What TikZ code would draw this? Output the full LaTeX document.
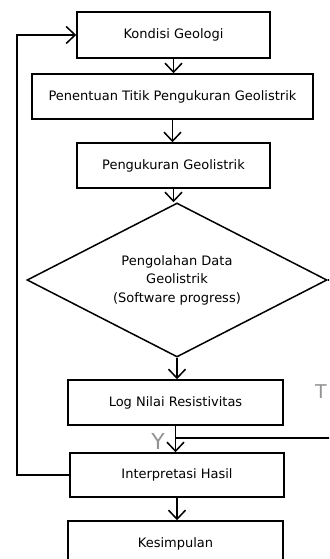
\documentclass[tikz,border=0pt]{standalone}
\usepackage{fontspec}
\setmainfont{DejaVu Sans}
\usetikzlibrary{arrows.meta,shapes.geometric}

\begin{document}
\begin{tikzpicture}[x=1pt, y=-1pt,
	box/.style={draw, line width=1.5pt, inner sep=0pt, font=\fontsize{13}{18.5}\selectfont},
	flow/.style={line width=1.5pt, -{Straight Barb[length=9pt,width=17pt]}},
	link/.style={line width=1.5pt},
	yt/.style={text=gray!85, font=\fontsize{19}{19}\selectfont, inner sep=0pt}]
			%%%%% START %%%%%
			
			\useasboundingbox (0, 0) rectangle (329, 559);
			\clip (0, 0) rectangle (329, 559);
			
			\node[box, minimum width=193pt, minimum height=46pt] (kondisi) at (173.5, 35) {Kondisi Geologi};
			\node[box, minimum width=281pt, minimum height=45pt] (penentuan) at (172.5, 96.5) {Penentuan Titik Pengukuran Geolistrik};
			\node[box, minimum width=193pt, minimum height=45pt] (pengukuran) at (173.5, 165.5) {Pengukuran Geolistrik};
			\node[box, shape=diamond, aspect=2, align=center, minimum width=300pt, minimum height=154pt] (olah) at (177, 280) {Pengolahan Data\\Geolistrik\\(Software progress)};
			\node[box, minimum width=215pt, minimum height=45pt] (lognilai) at (175.5, 402.5) {Log Nilai Resistivitas};
			\node[box, minimum width=214pt, minimum height=44pt] (interp) at (177, 475) {Interpretasi Hasil};
			\node[box, minimum width=215pt, minimum height=45pt] (simpul) at (175.5, 543.5) {Kesimpulan};
			
			\node[yt] (tidak) at (321, 392) {T};
			\node[yt, font=\fontsize{22}{22}\selectfont] (ya) at (158, 441) {Y};
			
			\coordinate (kiri) at (17, 300);
			\coordinate (kanan) at (345, 360);
			\coordinate (gabung) at (lognilai.south |- 0, 438);
			
			\draw[flow] (kondisi.south) -- (kondisi.south |- penentuan.north);
			\draw[flow] (penentuan.south) -- (penentuan.south |- pengukuran.north);
			\draw[flow] (pengukuran.south) -- (pengukuran.south |- olah.north);
			\draw[flow] (olah.south) -- (olah.south |- lognilai.north);
			\draw[flow] (lognilai.south) -- (lognilai.south |- interp.north);
			\draw[flow] (interp.south) -- (interp.south |- simpul.north);
			
			% jalur T dan umpan balik
			\draw[link] (olah.east) -| (kanan) |- (gabung);
			\draw[flow] (interp.west) -| (kiri) |- (kondisi.west);
			
			%%%%% END %%%%%
\end{tikzpicture}
\end{document}
